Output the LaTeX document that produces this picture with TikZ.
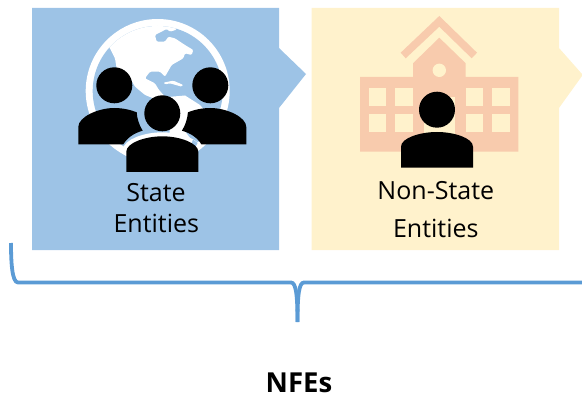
\documentclass[tikz,border=0pt]{standalone}
\usepackage{fontspec}
\setmainfont{Open Sans}
\definecolor{boxblue}{HTML}{9DC3E6}
\definecolor{boxyellow}{HTML}{FFF2CC}
\definecolor{bldg}{HTML}{F8CBAD}
\definecolor{bracec}{HTML}{5B9BD5}
\tikzset{
  lbl/.style={anchor=base,inner sep=0pt,font=\fontsize{25}{25}\selectfont,text=black},
  person/.style={fill=black},
  brace/.style={draw=bracec,line width=3.8pt}
}
\begin{document}
\begin{tikzpicture}[x=1pt,y=-1pt]
\useasboundingbox (0,0) rectangle (582,396);
% boxes
\fill[boxblue] (32,8) -- (279,8) -- (279,48) -- (306,74) -- (279,108) -- (279,250) -- (32,250) -- cycle;
\fill[boxyellow] (311.5,8) -- (559,8) -- (559,48) -- (582,74) -- (582,76) -- (559,108) -- (559,250) -- (311.5,250) -- cycle;
% globe
\fill[white] (157.7,91) circle[radius=72pt];
\fill[boxblue] (157.7,91) circle[radius=65pt];
\begin{scope}
\clip (157.7,91) circle[radius=65pt];
\begin{scope}[shift={(85,15)}]
\begin{scope}[x=.3333pt,y=-.3333pt,rounded corners=1.2pt]
\fill[white] (40,-30) -- (270,-30) -- (275,44) -- (255,50) -- (245,42) -- (210,60) -- (215,80) -- (240,80) -- (250,65) -- (270,70) -- (300,90) -- (325,105) -- (320,120) -- (300,115) -- (295,130) -- (260,150) -- (240,185) -- (225,170) -- (195,170) -- (180,190) -- (210,205) -- (222,225) -- (240,245) -- (230,260) -- (180,240) -- (150,215) -- (130,180) -- (95,160) -- (90,130) -- (75,100) -- (40,60) -- cycle;
\fill[white] (235,203) -- (265,197) -- (295,210) -- (290,215) -- (255,205) -- (240,208) -- cycle;
\end{scope}
\end{scope}
\fill[white] (168,97) -- (185,95.5) -- (200,105) -- (206,112) -- (190,120) -- (184,130) -- (190,138) -- (170,138) -- cycle;
\end{scope}
% gap band round the middle person, seen on the globe
\begin{scope}
\clip (157.7,91) circle[radius=72pt];
\draw[white,line width=8pt] (126.3,172) -- (126.3,151.7) .. controls (126.3,143) and (145,136.3) .. (162.3,136.3) .. controls (179.6,136.3) and (198.3,143) .. (198.3,151.7) -- (198.3,172);
\fill[boxblue] (193,139.5) -- (197.5,143) -- (195,148) -- (191,145) -- cycle;
\end{scope}
% people on the globe
\fill[person] (114.3,85.3) circle[radius=18pt];
\fill[person] (210.3,85.3) circle[radius=18pt];
\fill[person] (162.3,113.3) circle[radius=18pt];
\fill[person] (78.3,144.3) -- (78.3,127) .. controls (78.3,117) and (98,108) .. (114.3,108) .. controls (123,108) and (131,110) .. (136.7,112.3) .. controls (137,118) and (139,125) .. (142.7,130.7) .. controls (134,133) and (127,138) .. (123.3,144.3) -- cycle;
\fill[person] (246.3,144.3) -- (246.3,127) .. controls (246.3,117) and (226.6,108) .. (210.3,108) .. controls (201.6,108) and (193.6,110) .. (187.9,112.3) .. controls (187.6,118) and (185.6,125) .. (181.9,130.7) .. controls (190.6,133) and (197.6,138) .. (201.3,144.3) -- cycle;
\fill[person] (126.3,172) -- (126.3,151.7) .. controls (126.3,143) and (145,136.3) .. (162.3,136.3) .. controls (179.6,136.3) and (198.3,143) .. (198.3,151.7) -- (198.3,172) -- cycle;
% building
\fill[bldg] (360,77) -- (413,77) -- (413,63.3) -- (439.3,37.7) -- (465.7,63.3) -- (465.7,77) -- (518.3,77) -- (518.3,151.7) -- (360,151.7) -- cycle;
\fill[bldg] (400.7,52.7) -- (439.3,16) -- (477,52.7) -- (471.7,58.3) -- (439.3,26.7) -- (405.7,58.3) -- cycle;
\fill[boxyellow] (439.3,70.3) circle[radius=6.7pt];
\foreach \xa in {368.7,395,465.7,492}
  \foreach \ya in {88,114.3}
    \fill[boxyellow] (\xa,\ya) rectangle ++(17.7,17.7);
\fill[boxyellow] (424,97) rectangle (455,137);
% person on building
\fill[person] (437,109.7) circle[radius=18pt];
\fill[person] (401,167.7) -- (401,146.7) .. controls (401,138) and (420,132) .. (437,132) .. controls (454,132) and (473,138) .. (473,146.7) -- (473,167.7) -- cycle;
% labels
\node[lbl] (s1) at (156,201) {State};
\node[lbl] (s2) at (156.3,232.7) {Entities};
\node[lbl] (n1) at (435.8,200) {Non-State};
\node[lbl] (n2) at (435.8,237) {Entities};
\node[anchor=base,inner sep=0pt,font=\fontsize{27.5}{27.5}\selectfont\bfseries] (nfe) at (299,392.7) {NFEs};
% brace
\draw[brace] (11,243) .. controls (11,262) and (12,282.5) .. (18,282.5) -- (291,282.5) .. controls (296,282.5) and (297.5,295) .. (297.5,322);
\draw[brace] (297.5,322) .. controls (297.5,295) and (299,282.5) .. (304,282.5) -- (582,282.5);
\end{tikzpicture}
\end{document}
